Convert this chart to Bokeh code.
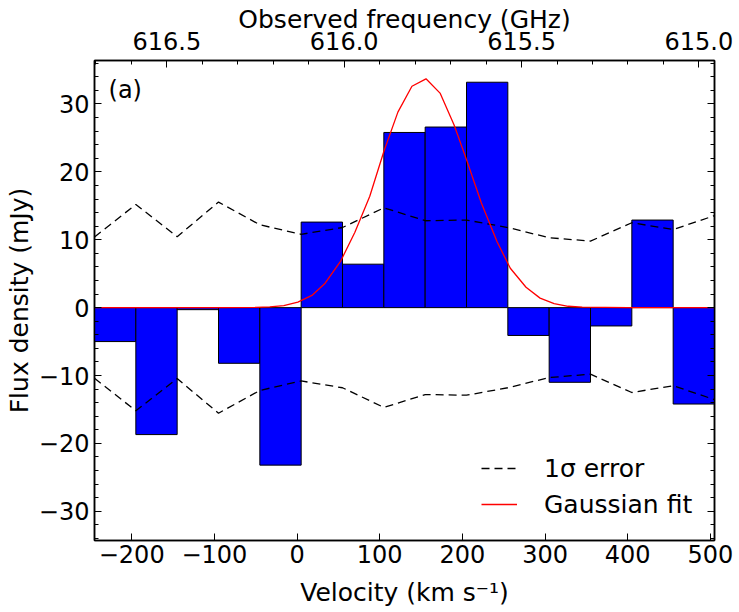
from bokeh.plotting import figure
from bokeh.models import Range1d, LinearAxis, FixedTicker, Legend, LegendItem, Label
from bokeh.embed import file_html
from bokeh.resources import INLINE

# ---- data ----
bin_vel = [-220, -170, -120, -70, -20, 30, 80, 130, 180, 230, 280, 330, 380, 430, 480]
flux = [-5.0, -18.7, -0.3, -8.2, -23.2, 12.6, 6.4, 25.8, 26.6, 33.2, -4.1, -11.0, -2.7, 12.9, -14.2]

err_vel = [-245, -195, -145, -95, -45, 5, 55, 105, 155, 205, 255, 305, 355, 405, 455, 505]
err = [10.4, 15.2, 10.45, 15.55, 12.2, 10.8, 11.8, 14.7, 12.8, 12.9, 11.8, 10.3, 9.8, 12.5, 11.5, 13.55]
err_neg = [-e for e in err]

fit_vel = [-245, -150, -100, -50, -33, -16, 1, 18, 34, 53, 70, 88, 105, 122, 139, 156,
           173, 190, 205, 223, 242, 258, 277, 294, 311, 328, 345, 400, 505]
fit_flux = [0.0, 0.0, 0.0, 0.03, 0.1, 0.3, 0.8, 1.8, 3.6, 6.9, 11.1, 16.4, 23.0, 28.8, 32.6, 33.7,
            31.6, 26.9, 21.8, 15.4, 9.7, 5.8, 3.0, 1.4, 0.6, 0.2, 0.08, 0.0, 0.0]

vel_ticks = [-200, -100, 0, 100, 200, 300, 400, 500]
vel_labels = ["\u2212200", "\u2212100", "0", "100", "200", "300", "400", "500"]
flux_ticks = [-30, -20, -10, 0, 10, 20, 30]
flux_labels = ["\u221230", "\u221220", "\u221210", "0", "10", "20", "30"]
flux_minor = [-34, -32, -28, -26, -24, -22, -18, -16, -14, -12, -8, -6, -4, -2,
              2, 4, 6, 8, 12, 14, 16, 18, 22, 24, 26, 28, 32, 34, 36]
freq_ticks = [615.0, 615.5, 616.0, 616.5]
freq_labels = ["615.0", "615.5", "616.0", "616.5"]
freq_minor = [615.1, 615.2, 615.3, 615.4, 615.6, 615.7, 615.8, 615.9,
              616.1, 616.2, 616.3, 616.4, 616.6, 616.7]

vel_min, vel_max = -245, 505
flux_min, flux_max = -34.3, 36.4
freq_at_vmin, freq_at_vmax = 616.704, 614.956

FONT = "DejaVu Sans"
FS = "24px"
FS_LABEL = "25px"

p = figure(width=739, height=612, output_backend="svg", toolbar_location=None,
           x_range=Range1d(vel_min, vel_max), y_range=Range1d(flux_min, flux_max),
           min_border_left=94, min_border_right=25, min_border_top=60, min_border_bottom=72)
p.extra_x_ranges = {"freq": Range1d(freq_at_vmin, freq_at_vmax)}
p.grid.visible = False
p.outline_line_color = "black"
p.outline_line_width = 1.5
p.background_fill_color = "white"
p.border_fill_color = "white"

p.vbar(x=bin_vel, top=flux, bottom=0, width=50, fill_color="#0000ff", line_color="black", line_width=1)
r_err = p.line(err_vel, err, line_color="black", line_dash="8 5", line_width=1.3)
p.line(err_vel, err_neg, line_color="black", line_dash="8 5", line_width=1.3)
r_fit = p.line(fit_vel, fit_flux, line_color="red", line_width=1.3)

def style_axis(ax):
    ax.axis_line_color = "black"
    ax.axis_line_width = 1.5
    ax.major_tick_in = 7
    ax.major_tick_out = 0
    ax.minor_tick_in = 4
    ax.minor_tick_out = 0
    ax.major_tick_line_color = "black"
    ax.minor_tick_line_color = "black"
    ax.major_label_text_font = FONT
    ax.major_label_text_font_size = FS
    ax.major_label_text_color = "black"
    ax.axis_label_text_font = FONT
    ax.axis_label_text_font_size = FS_LABEL
    ax.axis_label_text_font_style = "normal"
    ax.axis_label_text_color = "black"

xa = p.xaxis[0]
style_axis(xa)
xa.ticker = FixedTicker(ticks=vel_ticks, minor_ticks=[])
xa.major_label_overrides = dict(zip(vel_ticks, vel_labels))
xa.axis_label = "Velocity (km s\u207b\u00b9)"
xa.major_label_standoff = 4
xa.axis_label_standoff = 12

ya = p.yaxis[0]
style_axis(ya)
ya.ticker = FixedTicker(ticks=flux_ticks, minor_ticks=flux_minor)
ya.major_label_overrides = dict(zip(flux_ticks, flux_labels))
ya.axis_label = "Flux density (mJy)"
ya.major_label_standoff = 5
ya.axis_label_standoff = 2

top = LinearAxis(x_range_name="freq", axis_label="Observed frequency (GHz)")
style_axis(top)
top.ticker = FixedTicker(ticks=freq_ticks, minor_ticks=freq_minor)
top.major_label_overrides = dict(zip(freq_ticks, freq_labels))
top.major_label_standoff = 11
top.axis_label_standoff = -5
p.add_layout(top, "above")

right = LinearAxis()
style_axis(right)
right.ticker = FixedTicker(ticks=flux_ticks, minor_ticks=flux_minor)
right.major_label_overrides = {t: "" for t in flux_ticks}
right.major_label_standoff = 0
p.add_layout(right, "right")

p.add_layout(Label(x=-228, y=32.0, text="(a)", text_font=FONT, text_font_size=FS,
                   text_baseline="middle", text_align="left", text_color="black"))

legend = Legend(items=[LegendItem(label="1\u03c3 error", renderers=[r_err]),
                       LegendItem(label="Gaussian fit", renderers=[r_fit])],
                location=(387, 21), orientation="vertical",
                border_line_alpha=0, background_fill_alpha=0,
                label_text_font=FONT, label_text_font_size=FS_LABEL, label_text_color="black",
                glyph_width=36, glyph_height=30, label_height=30, spacing=6,
                label_standoff=27, padding=0, margin=0)
p.add_layout(legend, "center")

open("out.html", "w").write(file_html(p, INLINE))
